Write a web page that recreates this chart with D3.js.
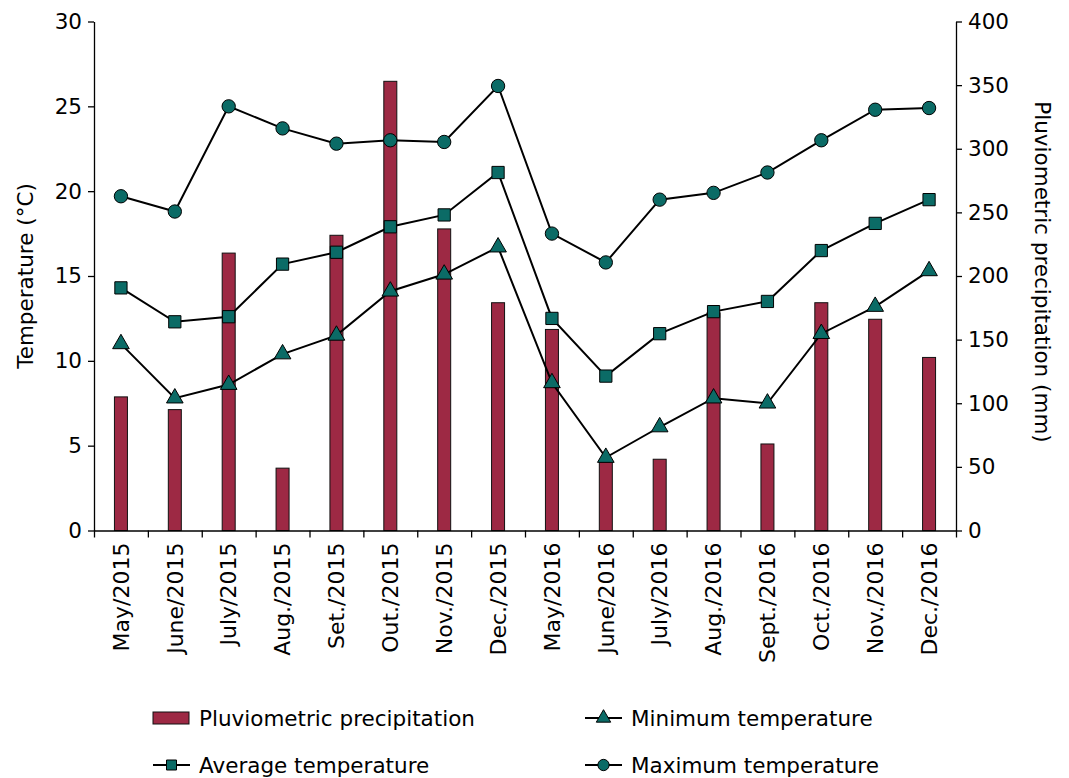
<!DOCTYPE html>
<html>
<head>
<meta charset="utf-8">
<script src="https://cdn.jsdelivr.net/npm/d3@7"></script>
<style>
  body { margin: 0; background: #fff; }
  svg { font-family: "DejaVu Sans", sans-serif; }
  .axis path, .axis line { stroke: #000; stroke-width: 1.3px; }
  .axis text { font-size: 21.5px; fill: #000; font-family: "DejaVu Sans", sans-serif; }
</style>
</head>
<body>
<div id="chart"></div>
<script>
// data
var months = ["May/2015", "June/2015", "July/2015", "Aug./2015", "Set./2015", "Out./2015", "Nov./2015", "Dec./2015",
  "May/2016", "June/2016", "July/2016", "Aug./2016", "Sept./2016", "Oct./2016", "Nov./2016", "Dec./2016"];
var precipitation = [105, 95, 218, 49, 232, 353, 237, 179, 158, 54, 56, 171, 68, 179, 166, 136];
var minTemp = [11.0, 7.8, 8.6, 10.4, 11.5, 14.1, 15.1, 16.7, 8.7, 4.3, 6.1, 7.8, 7.5, 11.6, 13.2, 15.3];
var avgTemp = [14.3, 12.3, 12.6, 15.7, 16.4, 17.9, 18.6, 21.1, 12.5, 9.1, 11.6, 12.9, 13.5, 16.5, 18.1, 19.5];
var maxTemp = [19.7, 18.8, 25.0, 23.7, 22.8, 23.0, 22.9, 26.2, 17.5, 15.8, 19.5, 19.9, 21.1, 23.0, 24.8, 24.9];
var tempTicks = [0, 5, 10, 15, 20, 25, 30];
var precTicks = [0, 50, 100, 150, 200, 250, 300, 350, 400];

var svgWidth = 1069;
var svgHeight = 778;
var margin = { top: 21.5, right: 113, bottom: 247.5, left: 94 };
var width = svgWidth - margin.left - margin.right;
var height = svgHeight - margin.top - margin.bottom;

var barColor = "#9d2944";
var markColor = "#0b6b66";

var svg = d3.select("#chart")
  .append("svg")
  .attr("width", svgWidth)
  .attr("height", svgHeight);

var chartGroup = svg.append("g")
  .attr("transform", `translate(${margin.left}, ${margin.top})`);

var xBand = d3.scaleBand().domain(months).range([0, width]);
var xIdx = d3.scaleLinear().domain([0, months.length]).range([0, width]);
var yTemp = d3.scaleLinear().domain([0, 30]).range([height, 0]);
var yPrec = d3.scaleLinear().domain([0, 400]).range([height, 0]);

// bars
chartGroup.selectAll(".bar")
  .data(precipitation)
  .enter()
  .append("rect")
  .attr("class", "bar")
  .attr("x", (d, i) => xBand(months[i]) + xBand.bandwidth() / 2 - 6.5)
  .attr("y", d => yPrec(d))
  .attr("width", 13)
  .attr("height", d => height - yPrec(d))
  .attr("fill", barColor)
  .attr("stroke", "#111")
  .attr("stroke-width", 1);

// axes
chartGroup.append("g")
  .attr("class", "axis")
  .call(d3.axisLeft(yTemp).tickValues(tempTicks).tickSize(6).tickSizeOuter(0).tickPadding(6));

chartGroup.append("g")
  .attr("class", "axis")
  .attr("transform", `translate(${width}, 0)`)
  .call(d3.axisRight(yPrec).tickValues(precTicks).tickSize(6).tickSizeOuter(0).tickPadding(6));

chartGroup.append("g")
  .attr("class", "axis")
  .attr("transform", `translate(0, ${height})`)
  .call(d3.axisBottom(xIdx).tickValues(d3.range(months.length + 1)).tickFormat("").tickSize(7).tickSizeOuter(0));

chartGroup.append("g")
  .attr("class", "axis")
  .attr("transform", `translate(0, ${height})`)
  .call(d3.axisBottom(xBand).tickSize(0).tickPadding(0))
  .call(g => g.select(".domain").remove())
  .selectAll("text")
  .attr("font-size", "22px")
  .style("font-size", "22px")
  .attr("transform", "rotate(-90)")
  .attr("text-anchor", "end")
  .attr("x", -12)
  .attr("y", 0)
  .attr("dy", "0.35em");

// axis titles
svg.append("text")
  .attr("transform", `translate(33, ${margin.top + height / 2}) rotate(-90)`)
  .attr("text-anchor", "middle")
  .attr("font-size", "21.5px")
  .text("Temperature (°C)");

svg.append("text")
  .attr("transform", `translate(1035, ${margin.top + height / 2 - 4}) rotate(90)`)
  .attr("text-anchor", "middle")
  .attr("font-size", "21.5px")
  .text("Pluviometric precipitation (mm)");

// lines + markers
var cx = (d, i) => xBand(months[i]) + xBand.bandwidth() / 2;
var lineGen = d3.line().x(cx).y(d => yTemp(d));

var series = [
  { values: maxTemp, shape: d3.symbolCircle, size: 140 },
  { values: avgTemp, shape: d3.symbolSquare, size: 150 },
  { values: minTemp, shape: d3.symbolTriangle, size: 120 }
];

series.forEach(function (s) {
  chartGroup.append("path")
    .datum(s.values)
    .attr("d", lineGen)
    .attr("fill", "none")
    .attr("stroke", "#000")
    .attr("stroke-width", 2);

  chartGroup.selectAll(null)
    .data(s.values)
    .enter()
    .append("path")
    .attr("transform", (d, i) => `translate(${cx(d, i)}, ${yTemp(d)})`)
    .attr("d", d3.symbol().type(s.shape).size(s.size))
    .attr("fill", markColor)
    .attr("stroke", "#000")
    .attr("stroke-width", 1);
});

// legend
var legend = svg.append("g");
var legendItems = [
  { label: "Pluviometric precipitation", type: "bar", x: 153, y: 718 },
  { label: "Minimum temperature", type: "line", shape: d3.symbolTriangle, size: 90, x: 585, y: 718 },
  { label: "Average temperature", type: "line", shape: d3.symbolSquare, size: 100, x: 153, y: 765 },
  { label: "Maximum temperature", type: "line", shape: d3.symbolCircle, size: 100, x: 585, y: 765 }
];

legendItems.forEach(function (it) {
  if (it.type === "bar") {
    legend.append("rect")
      .attr("x", it.x).attr("y", it.y - 6)
      .attr("width", 36).attr("height", 12)
      .attr("fill", barColor).attr("stroke", "#111").attr("stroke-width", 1);
  } else {
    legend.append("line")
      .attr("x1", it.x).attr("x2", it.x + 37)
      .attr("y1", it.y).attr("y2", it.y)
      .attr("stroke", "#000").attr("stroke-width", 2);
    legend.append("path")
      .attr("transform", `translate(${it.x + 18.5}, ${it.y})`)
      .attr("d", d3.symbol().type(it.shape).size(it.size))
      .attr("fill", markColor).attr("stroke", "#000").attr("stroke-width", 1);
  }
  legend.append("text")
    .attr("x", it.x + 46)
    .attr("y", it.y)
    .attr("dy", "0.35em")
    .attr("font-size", "21.5px")
    .text(it.label);
});
</script>
</body>
</html>
